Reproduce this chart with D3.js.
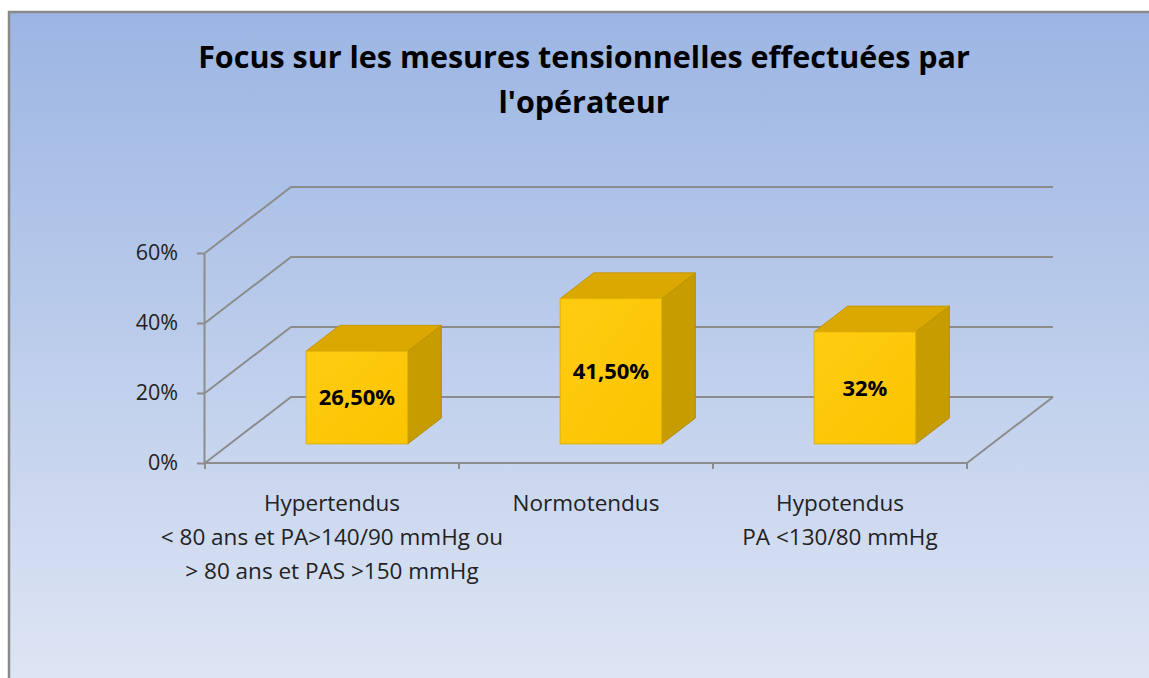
<!DOCTYPE html>
<html>
<head>
<meta charset="utf-8">
<script src="https://cdn.jsdelivr.net/npm/d3@7"></script>
<style>
  html, body { margin: 0; padding: 0; background: #fff; overflow: hidden; }
  svg { display: block; }
</style>
</head>
<body>
<svg width="1149" height="678"></svg>
<script>
// data
const categories = ["Hypertendus", "Normotendus", "Hypotendus"];
const categoryLines = [
  ["Hypertendus", "< 80 ans et PA>140/90 mmHg ou", "> 80 ans et PAS >150 mmHg"],
  ["Normotendus"],
  ["Hypotendus", "PA <130/80 mmHg"]
];
const values = [0.265, 0.415, 0.32];
const valueLabels = ["26,50%", "41,50%", "32%"];
const yTicks = [0, 0.2, 0.4, 0.6];
const titleLines = ["Focus sur les mesures tensionnelles effectuées par", "l'opérateur"];

const svg = d3.select("svg");
const width = 1149, height = 678;
const font = "'Open Sans', sans-serif";

// 3d offsets (back wall relative to front)
const depthX = 86, depthY = 66;
const z0 = 0.29, z1 = 0.68;

// background
const defs = svg.append("defs");
const bg = defs.append("linearGradient").attr("id", "bg")
  .attr("x1", "0").attr("y1", "0").attr("x2", "0").attr("y2", "1");
bg.append("stop").attr("offset", "0%").attr("stop-color", "#9bb5e3");
bg.append("stop").attr("offset", "100%").attr("stop-color", "#dfe6f4");

const face = defs.append("linearGradient").attr("id", "face")
  .attr("x1", "0").attr("y1", "0").attr("x2", "1").attr("y2", "1");
face.append("stop").attr("offset", "0%").attr("stop-color", "#ffcc12");
face.append("stop").attr("offset", "100%").attr("stop-color", "#fbc400");

svg.append("rect").attr("x", 9).attr("y", 12)
  .attr("width", width + 20).attr("height", height)
  .attr("fill", "url(#bg)")
  .attr("stroke", "#8a8a8a").attr("stroke-width", 2.5);

// scales
const x = d3.scaleBand().domain(categories).range([205, 967]);
const y = d3.scaleLinear().domain([0, 0.6]).range([463, 253]);
const barW = x.bandwidth() * 0.4;

const P = (px, v, z) => [px + z * depthX, y(v) - z * depthY];

// grid: left wall + back wall
const grid = svg.append("g").attr("stroke", "#8c8c8c").attr("stroke-width", 2).attr("fill", "none");
yTicks.forEach(t => {
  const a = P(x.range()[0], t, 0), b = P(x.range()[0], t, 1), c = P(x.range()[1], t, 1);
  grid.append("polyline").attr("points", [a, b, c].map(p => p.join(",")).join(" "));
});
// floor right edge
{
  const a = P(x.range()[1], 0, 0), b = P(x.range()[1], 0, 1);
  grid.append("line").attr("x1", a[0]).attr("y1", a[1]).attr("x2", b[0]).attr("y2", b[1]);
}
// value axis
const yAxis = svg.append("g").attr("transform", `translate(${x.range()[0]},0)`)
  .call(d3.axisLeft(y).tickValues(yTicks).tickFormat(d3.format(".0%")).tickSize(8).tickPadding(19));
yAxis.selectAll("path, line").attr("stroke", "#8c8c8c").attr("stroke-width", 2);
yAxis.select(".domain").attr("d", `M-0.5,${y(0)}V${y(0.6)}`);
yAxis.selectAll("text").attr("font-family", font).attr("font-size", 21.5).attr("fill", "#222");

// category axis
const xAxis = svg.append("g").attr("transform", `translate(0,${y(0)})`)
  .call(d3.axisBottom(x).tickSize(6).tickFormat(""));
xAxis.selectAll(".tick").remove();
xAxis.select(".domain").attr("stroke", "#8c8c8c").attr("stroke-width", 2)
  .attr("d", `M${x.range()[0]},0H${x.range()[1]}`);
const edges = [x.range()[0]].concat(categories.map(c => x(c) + x.bandwidth()));
xAxis.selectAll(".edge").data(edges).join("line")
  .attr("x1", d => d).attr("x2", d => d).attr("y1", 0).attr("y2", 6)
  .attr("stroke", "#8c8c8c").attr("stroke-width", 2);

// category labels
categories.forEach((c, i) => {
  const t = svg.append("text")
    .attr("x", x(c) + x.bandwidth() / 2).attr("y", 511)
    .attr("text-anchor", "middle")
    .attr("font-family", font).attr("font-size", 22.5).attr("fill", "#222");
  categoryLines[i].forEach((l, j) => {
    t.append("tspan").attr("x", x(c) + x.bandwidth() / 2).attr("dy", j === 0 ? 0 : 34).text(l);
  });
});

// bars
const bars = svg.append("g");
categories.forEach((c, i) => {
  const v = values[i];
  const xl = x(c) + (x.bandwidth() - barW) / 2, xr = xl + barW;
  const poly = pts => pts.map(p => p.join(",")).join(" ");
  const g = bars.append("g");
  // right side
  g.append("polygon")
    .attr("points", poly([P(xr, v, z0), P(xr, v, z1), P(xr, 0, z1), P(xr, 0, z0)]))
    .attr("fill", "#c79c00").attr("stroke", "#b08a00").attr("stroke-width", 1);
  // top
  g.append("polygon")
    .attr("points", poly([P(xl, v, z0), P(xr, v, z0), P(xr, v, z1), P(xl, v, z1)]))
    .attr("fill", "#dba800").attr("stroke", "#c49600").attr("stroke-width", 1);
  // front
  const f0 = P(xl, v, z0), f1 = P(xr, 0, z0);
  g.append("rect")
    .attr("x", f0[0]).attr("y", f0[1])
    .attr("width", f1[0] - f0[0]).attr("height", f1[1] - f0[1])
    .attr("fill", "url(#face)").attr("stroke", "#e0b000").attr("stroke-width", 1);
  g.append("text")
    .attr("x", (f0[0] + f1[0]) / 2).attr("y", (f0[1] + f1[1]) / 2)
    .attr("dy", "0.35em").attr("text-anchor", "middle")
    .attr("font-family", font).attr("font-weight", "bold").attr("font-size", 22)
    .attr("fill", "#000").text(valueLabels[i]);
});

// title
titleLines.forEach((l, i) => {
  svg.append("text")
    .attr("x", 584).attr("y", 68 + i * 45)
    .attr("text-anchor", "middle")
    .attr("font-family", font).attr("font-weight", "bold").attr("font-size", 30.5)
    .attr("fill", "#000").text(l);
});
</script>
</body>
</html>
